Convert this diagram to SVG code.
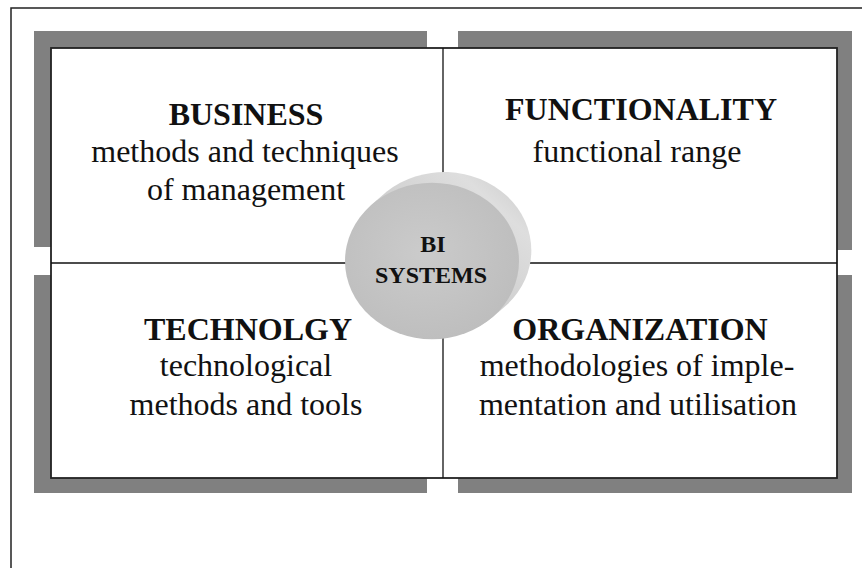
<svg xmlns="http://www.w3.org/2000/svg" width="862" height="568" viewBox="0 0 862 568">
<style>
.frame{fill:none;stroke:#222;stroke-width:1.5}
.band{fill:#808080}
.box{fill:#fff;stroke:#222;stroke-width:1.8}
.div{stroke:#111;stroke-width:1.3}
text{font-family:"Liberation Serif","Times New Roman",serif;fill:#111;text-anchor:middle}
.t{font-size:32px;font-weight:bold}
.b{font-size:32px}
.c{font-size:24px;font-weight:bold}
</style>
<defs>
<radialGradient id="face" cx="0.45" cy="0.45" r="0.6">
<stop offset="0" stop-color="#cbcbcb"/>
<stop offset="1" stop-color="#bdbdbd"/>
</radialGradient>
<linearGradient id="side" x1="0" y1="1" x2="1" y2="0">
<stop offset="0" stop-color="#b0b0b0"/>
<stop offset="0.55" stop-color="#d2d2d2"/>
<stop offset="0.8" stop-color="#dedede"/>
<stop offset="1" stop-color="#c8c8c8"/>
</linearGradient>
</defs>
<rect x="0" y="0" width="862" height="568" fill="#fff"/>
<rect class="frame" x="11" y="8" width="870" height="580"/>
<g id="band">
<rect class="band" x="34" y="31" width="393" height="17"/>
<rect class="band" x="458" y="31" width="394" height="17"/>
<rect class="band" x="34" y="478" width="393" height="15"/>
<rect class="band" x="458" y="478" width="394" height="15"/>
<rect class="band" x="34" y="31" width="17" height="216"/>
<rect class="band" x="34" y="275" width="17" height="218"/>
<rect class="band" x="837" y="31" width="15" height="219"/>
<rect class="band" x="837" y="275" width="15" height="218"/>
</g>
<rect class="box" x="51" y="48" width="786" height="430"/>
<g id="connectors">
<line class="div" x1="443" y1="48" x2="443" y2="478"/>
<line class="div" x1="51" y1="263" x2="837" y2="263"/>
</g>
<g id="business">
<text class="t" x="246" y="125">BUSINESS</text>
<text class="b" x="245" y="162">methods and techniques</text>
<text class="b" x="246" y="200">of management</text>
</g>
<g id="functionality">
<text class="t" x="641" y="120">FUNCTIONALITY</text>
<text class="b" x="637" y="162">functional range</text>
</g>
<g id="technology">
<text class="t" x="248" y="340">TECHNOLGY</text>
<text class="b" x="246" y="376">technological</text>
<text class="b" x="246" y="415">methods and tools</text>
</g>
<g id="organization">
<text class="t" x="640" y="340">ORGANIZATION</text>
<text class="b" x="637" y="376">methodologies of imple-</text>
<text class="b" x="638" y="415">mentation and utilisation</text>
</g>
<g id="bi-systems">
<g transform="translate(432,261) scale(1,0.9)">
<path d="M60.2,62.7 L75.2,48.3 A87,87 0 0 0 -45.2,-77.1 L-60.2,-62.7 A87,87 0 0 0 60.2,62.7 Z" fill="url(#side)"/>
<circle cx="0" cy="0" r="87" fill="url(#face)"/>
</g>
<text class="c" x="433" y="252">BI</text>
<text class="c" x="431" y="283">SYSTEMS</text>
</g>
</svg>
